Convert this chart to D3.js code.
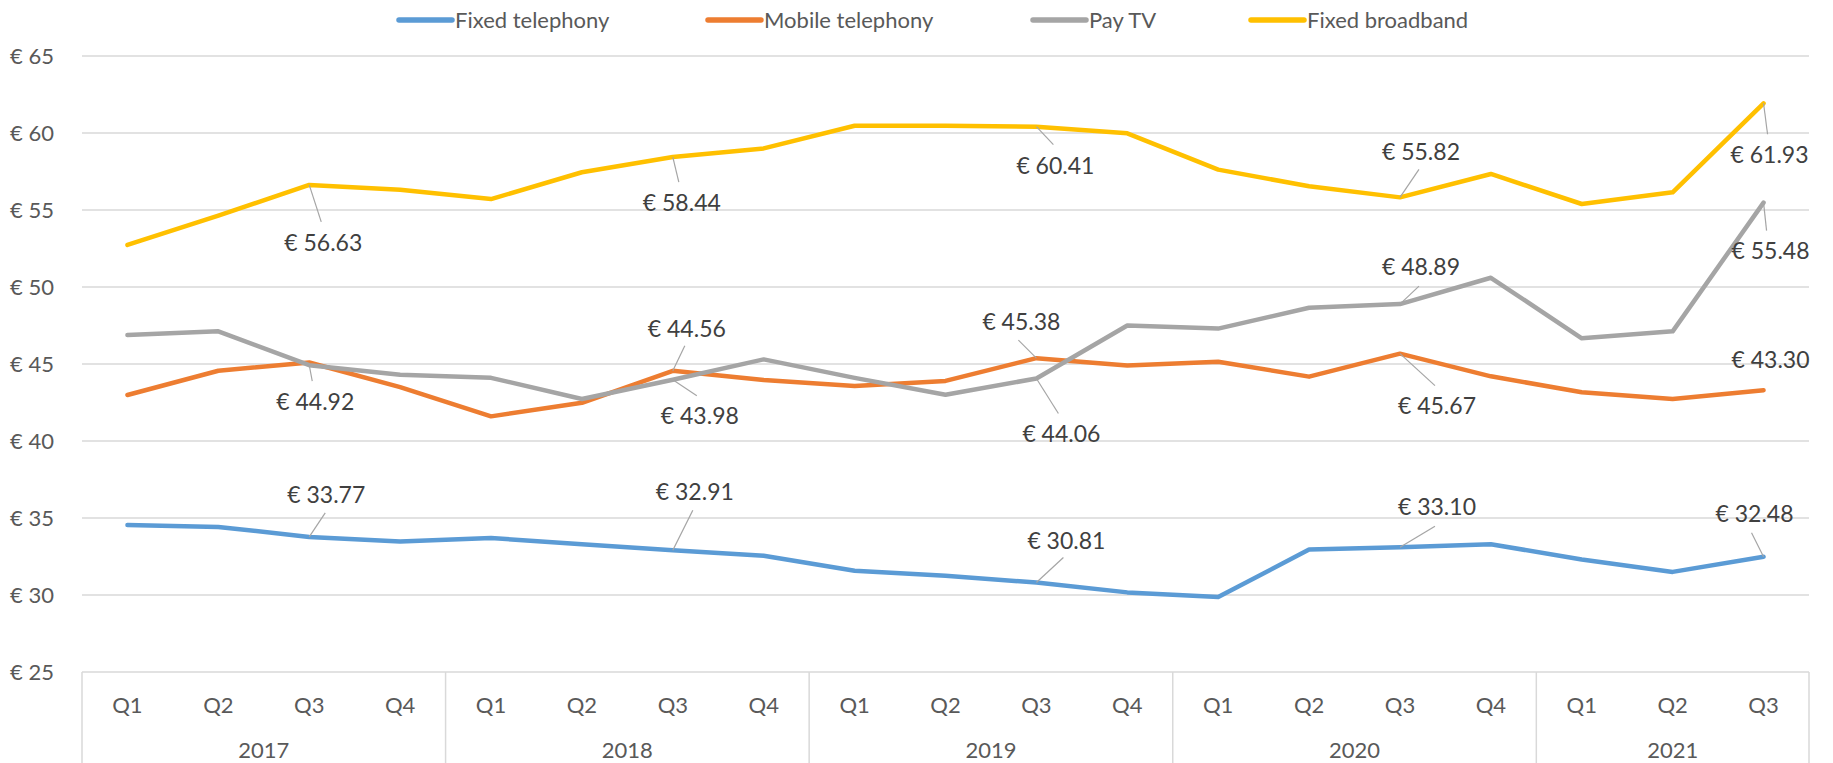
<!DOCTYPE html>
<html>
<head>
<meta charset="utf-8">
<script src="https://cdn.jsdelivr.net/npm/d3@7"></script>
<style>
  body { margin: 0; background: #fff; }
  svg { display: block; font-family: Lato, "Open Sans", sans-serif; }
</style>
</head>
<body>
<svg width="1833" height="763"></svg>
<script>
var width = 1833
var height = 763

// categories
var years = ["2017", "2018", "2019", "2020", "2021"]
var quartersPerYear = [4, 4, 4, 4, 3]
var quarters = ["Q1", "Q2", "Q3", "Q4", "Q1", "Q2", "Q3", "Q4", "Q1", "Q2", "Q3", "Q4",
                "Q1", "Q2", "Q3", "Q4", "Q1", "Q2", "Q3"]

// series values (EUR)
var fixedTelephony = [34.55, 34.42, 33.77, 33.48, 33.70, 33.30, 32.91, 32.55, 31.58, 31.25,
                      30.81, 30.17, 29.87, 32.95, 33.10, 33.30, 32.30, 31.50, 32.48]
var mobileTelephony = [42.99, 44.56, 45.10, 43.50, 41.60, 42.48, 44.56, 43.96, 43.57, 43.90,
                       45.38, 44.90, 45.15, 44.18, 45.67, 44.20, 43.16, 42.73, 43.30]
var payTV = [46.88, 47.12, 44.92, 44.30, 44.10, 42.73, 43.98, 45.30, 44.10, 43.00,
             44.06, 47.50, 47.30, 48.65, 48.89, 50.60, 46.67, 47.12, 55.48]
var fixedBroadband = [52.73, 54.63, 56.63, 56.32, 55.71, 57.45, 58.44, 59.00, 60.47, 60.47,
                      60.41, 59.98, 57.62, 56.54, 55.82, 57.34, 55.39, 56.15, 61.93]

var yTicks = [25, 30, 35, 40, 45, 50, 55, 60, 65]

var seriesNames = ["Fixed telephony", "Mobile telephony", "Pay TV", "Fixed broadband"]
var seriesValues = [fixedTelephony, mobileTelephony, payTV, fixedBroadband]
var seriesColors = ["#5B9BD5", "#ED7D31", "#A5A5A5", "#FFC000"]

// data labels: series index, point index, label offset, leader end offset
var labelSpots = [
  [3, 2, 14, 58, 12, 37], [3, 6, 9, 46, 6, 25], [3, 10, 19, 39, 17, 18],
  [3, 14, 21, -45, 19, -28], [3, 18, 6, 52, 4, 31],
  [2, 2, 6, 37, 3, 16], [2, 6, 27, 36, 24, 16], [2, 10, 25, 55, 22, 35],
  [2, 14, 21, -37, 19, -18], [2, 18, 7, 48, 3, 28],
  [1, 6, 14, -42, 12, -25], [1, 10, -15, -36, -18, -18], [1, 14, 37, 52, 35, 32],
  [1, 18, 7, -30, null, null],
  [0, 2, 17, -42, 16, -24], [0, 6, 22, -58, 20, -40], [0, 10, 30, -42, 27, -25],
  [0, 14, 37, -40, 35, -21], [0, 18, -9, -43, -12, -24]
]

var svg = d3.select("svg")
var margin = {top: 56, right: 24, bottom: 91, left: 82}

var x = d3.scaleBand()
    .domain(d3.range(quarters.length))
    .range([margin.left, width - margin.right])
    .padding(0)
var y = d3.scaleLinear()
    .domain([25, 65])
    .range([height - margin.bottom, margin.top])

var grid = "#D9D9D9"
var axisText = "#595959"

// gridlines
svg.append("g")
  .selectAll("line")
  .data(yTicks)
  .enter().append("line")
    .attr("x1", margin.left)
    .attr("x2", width - margin.right)
    .attr("y1", function(d) { return y(d) })
    .attr("y2", function(d) { return y(d) })
    .attr("stroke", grid)
    .attr("stroke-width", 1.5)

// y axis labels
svg.append("g")
  .selectAll("text")
  .data(yTicks)
  .enter().append("text")
    .attr("x", 54)
    .attr("y", function(d) { return y(d) })
    .attr("dy", "0.35em")
    .attr("text-anchor", "end")
    .attr("fill", axisText)
    .attr("font-size", 22)
    .text(function(d) { return "€ " + d })

// x axis: quarters and year groups
var axisY = y(25)
svg.append("g")
  .selectAll("text")
  .data(quarters)
  .enter().append("text")
    .attr("x", function(d, i) { return x(i) + x.bandwidth() / 2 })
    .attr("y", axisY + 33)
    .attr("dy", "0.35em")
    .attr("text-anchor", "middle")
    .attr("fill", axisText)
    .attr("font-size", 22)
    .text(function(d) { return d })

var bounds = [0]
quartersPerYear.forEach(function(n, i) { bounds.push(bounds[i] + n) })

svg.append("g")
  .selectAll("line")
  .data(bounds)
  .enter().append("line")
    .attr("x1", function(d) { return d < quarters.length ? x(d) : x(d - 1) + x.bandwidth() })
    .attr("x2", function(d) { return d < quarters.length ? x(d) : x(d - 1) + x.bandwidth() })
    .attr("y1", axisY)
    .attr("y2", height)
    .attr("stroke", grid)
    .attr("stroke-width", 1.5)

svg.append("g")
  .selectAll("text")
  .data(years)
  .enter().append("text")
    .attr("x", function(d, i) {
      var a = x(bounds[i]), b = x(bounds[i + 1] - 1) + x.bandwidth()
      return (a + b) / 2
    })
    .attr("y", axisY + 78)
    .attr("dy", "0.35em")
    .attr("text-anchor", "middle")
    .attr("fill", axisText)
    .attr("font-size", 22)
    .text(function(d) { return d })

// lines
var line = d3.line()
    .x(function(d, i) { return x(i) + x.bandwidth() / 2 })
    .y(function(d) { return y(d) })

svg.append("g")
  .selectAll("path")
  .data(seriesValues)
  .enter().append("path")
    .attr("d", line)
    .attr("fill", "none")
    .attr("stroke", function(d, i) { return seriesColors[i] })
    .attr("stroke-width", 4.5)
    .attr("stroke-linejoin", "round")
    .attr("stroke-linecap", "round")

// data labels with leader lines
var lab = svg.append("g")
labelSpots.forEach(function(s) {
  var v = seriesValues[s[0]][s[1]]
  var px = x(s[1]) + x.bandwidth() / 2, py = y(v)
  if (s[4] !== null) {
    lab.append("line")
      .attr("x1", px).attr("y1", py)
      .attr("x2", px + s[4]).attr("y2", py + s[5])
      .attr("stroke", "#A5A5A5")
      .attr("stroke-width", 1.2)
  }
  lab.append("text")
    .attr("x", px + s[2])
    .attr("y", py + s[3])
    .attr("dy", "0.35em")
    .attr("text-anchor", "middle")
    .attr("fill", "#404040")
    .attr("font-size", 23)
    .text("€ " + v.toFixed(2))
})

// legend
var legendStarts = [397, 706, 1031, 1249]
var legend = svg.append("g")
  .selectAll("g")
  .data(seriesNames)
  .enter().append("g")
    .attr("transform", function(d, i) { return "translate(" + legendStarts[i] + ",20)" })

legend.append("line")
    .attr("x1", 2).attr("x2", 55)
    .attr("stroke", function(d, i) { return seriesColors[i] })
    .attr("stroke-width", 5.5)
    .attr("stroke-linecap", "round")

legend.append("text")
    .attr("x", 58)
    .attr("dy", "0.35em")
    .attr("fill", axisText)
    .attr("font-size", 22)
    .text(function(d) { return d })
</script>
</body>
</html>
